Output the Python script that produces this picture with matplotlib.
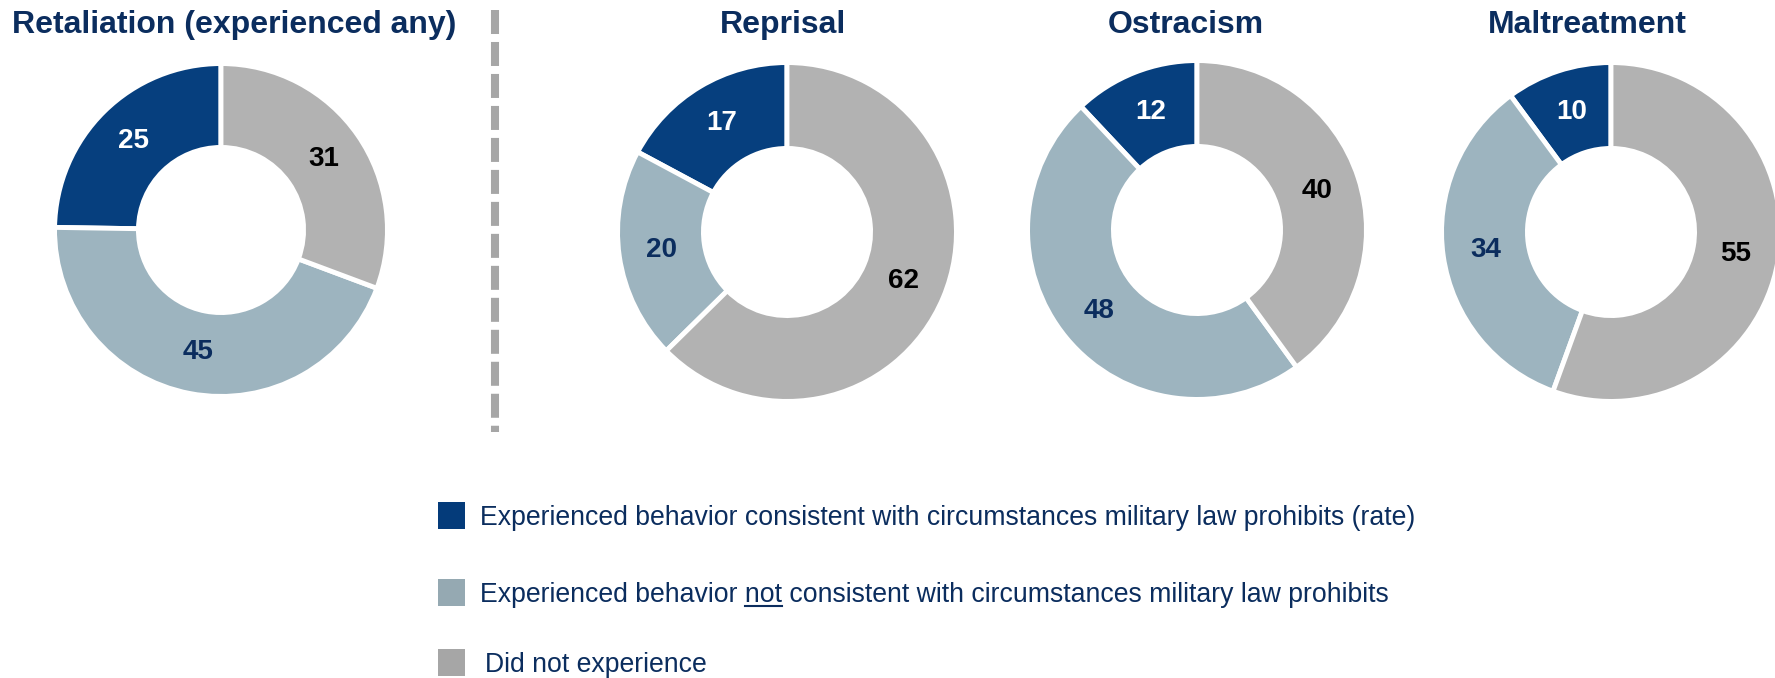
import numpy as np
import matplotlib
matplotlib.use("Agg")
import matplotlib.pyplot as plt
from matplotlib.lines import Line2D
from matplotlib.patches import Rectangle

plt.rcParams["font.family"] = ["Liberation Sans", "DejaVu Sans"]

# survey results (percent of respondents)
panel_titles = ["Retaliation (experienced any)", "Reprisal", "Ostracism", "Maltreatment"]
rate = [25, 17, 12, 10]
not_prohibited = [45, 20, 48, 34]
did_not_experience = [31, 62, 40, 55]

legend_labels = [
    "Experienced behavior consistent with circumstances military law prohibits (rate)",
    "Experienced behavior not consistent with circumstances military law prohibits",
    "Did not experience",
]

slice_colors = ["#063f7e", "#9db4bf", "#b2b2b2"]
legend_colors = ["#043b7a", "#95a9b2", "#a6a6a6"]
label_colors = ["white", "#0b2d5e", "black"]
navy = "#0b2d5e"

W, H = 1775, 678
fig = plt.figure(figsize=(W / 100, H / 100), dpi=100)

# donut layout in pixels: centre x, centre y, outer radius, hole radius
centers = [(221, 230), (787, 232), (1197, 230), (1611, 232)]
outer_r = [164, 167, 167, 167]
hole_r = [85, 86, 86, 86]
title_x = [234, 783, 1186, 1587]
edge_lw = 3.5
edge_px = edge_lw * 100 / 72

for i in range(4):
    cx, cy = centers[i]
    R = outer_r[i] + edge_px / 2
    ax = fig.add_axes([(cx - R) / W, 1 - (cy + R) / H, 2 * R / W, 2 * R / H])
    vals = [rate[i], not_prohibited[i], did_not_experience[i]]
    width = 1 - (hole_r[i] - edge_px / 2) / R
    wedges, _ = ax.pie(vals, colors=slice_colors, startangle=90, counterclock=True,
                       radius=1, wedgeprops=dict(width=width, edgecolor="white",
                                                 linewidth=edge_lw))
    lr = (outer_r[i] + hole_r[i]) / 2 / R
    for w, v, c in zip(wedges, vals, label_colors):
        ang = np.deg2rad((w.theta1 + w.theta2) / 2)
        ax.text(lr * np.cos(ang), lr * np.sin(ang), str(v), ha="center", va="center",
                fontsize=20, fontweight="bold", color=c)
    ax.set_xlim(-1, 1)
    ax.set_ylim(-1, 1)
    ax.set_aspect("equal")
    ax.axis("off")

    fig.text(title_x[i] / W, 1 - 33 / H, panel_titles[i], ha="center", va="baseline",
             fontsize=23, fontweight="bold", color=navy)

# dashed divider between overall and sub-type panels
fig.add_artist(Line2D([495 / W, 495 / W], [1 - 10 / H, 1 - 432 / H],
                      transform=fig.transFigure, color="#a6a6a6", lw=5.8,
                      dashes=(2.98, 0.99), solid_capstyle="butt", dash_capstyle="butt"))

# legend
legend_fs = 19.2
box_y = [502, 579, 649]
text_x = [480, 480, 485]
text_base = [525, 602, 672]
for col, lab, by, tx, tb in zip(legend_colors, legend_labels, box_y, text_x, text_base):
    fig.add_artist(Rectangle((438 / W, 1 - (by + 27) / H), 27 / W, 27 / H,
                             transform=fig.transFigure, facecolor=col, edgecolor="none"))
    fig.text(tx / W, 1 - tb / H, lab, ha="left", va="baseline", fontsize=legend_fs,
             color=navy)

# underline the word "not" in the second legend entry
renderer = fig.canvas.get_renderer()
t_pre = fig.text(text_x[1] / W, 1 - text_base[1] / H, "Experienced behavior not",
                 fontsize=legend_fs)
t_not = fig.text(text_x[1] / W, 1 - text_base[1] / H, "not", fontsize=legend_fs)
x_end = t_pre.get_window_extent(renderer).x1
w_not = t_not.get_window_extent(renderer).width
t_pre.remove()
t_not.remove()
uy = 1 - (text_base[1] + 4) / H
fig.add_artist(Line2D([(x_end - w_not) / W, x_end / W], [uy, uy],
                      transform=fig.transFigure, color=navy, lw=1.5))

fig.savefig("out.png", dpi=100)
